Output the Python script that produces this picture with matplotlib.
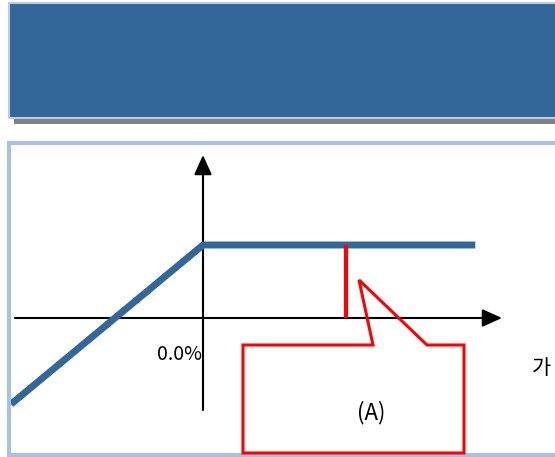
import matplotlib
matplotlib.use("Agg")
import matplotlib.pyplot as plt
from matplotlib.patches import Rectangle, Polygon

plt.rcParams['font.family'] = ['Noto Sans CJK KR', 'DejaVu Sans']

# ---- data (chart units: 1 unit = cap level of payoff line) ----
payoff_x = [-2.63, 0.0, 3.73]
payoff_y = [-1.18, 1.0, 1.0]
marker_x = 1.96          # red vertical marker position
marker_y = [0.0, 1.0]
origin_label = "0.0%"
callout_label = "(A)"
right_label = "가"

W, H = 555, 457
OX, OY, S = 203, 318, 73   # origin pixel position and pixel per unit

def u(px):
    return (px - OX) / S

def v(py):
    return (OY - py) / S

fig = plt.figure(figsize=(W / 100, H / 100), dpi=100)

# decoration axes in pixel coordinates
deco = fig.add_axes([0, 0, 1, 1])
deco.set_xlim(0, W)
deco.set_ylim(H, 0)
deco.axis('off')

# banner shadow
deco.add_patch(Rectangle((14, 118), W, 6, facecolor='#808080', edgecolor='none', zorder=1))
# banner
deco.add_patch(Rectangle((9, 3.3), W, 115, facecolor='#336799', edgecolor='#B9CDE5',
                         linewidth=1.5, zorder=2))
# chart box
deco.add_patch(Rectangle((9.3, 143), W, 312, facecolor='white', edgecolor='#A9C1E1',
                         linewidth=3, zorder=2))

# chart axes
ax = fig.add_axes([0, 0, 1, 1])
ax.set_xlim(u(0), u(W))
ax.set_ylim(v(H), v(0))
ax.axis('off')
ax.patch.set_alpha(0)

arrow_style = '-|>,head_length=0.4,head_width=0.18'
ax.annotate('', xy=(u(502), 0), xytext=(u(15), 0),
            arrowprops=dict(arrowstyle=arrow_style, lw=1.5, color='black',
                            mutation_scale=30, shrinkA=0, shrinkB=0), zorder=3)
ax.annotate('', xy=(0, v(155)), xytext=(0, v(410)),
            arrowprops=dict(arrowstyle=arrow_style, lw=1.5, color='black',
                            mutation_scale=30, shrinkA=0, shrinkB=0), zorder=3)

line, = ax.plot(payoff_x, payoff_y, color='#336799', lw=5, solid_capstyle='butt',
                solid_joinstyle='miter', zorder=4)
line.set_clip_path(Rectangle((11, 145), W, 308, transform=deco.transData))

ax.plot([marker_x, marker_x], marker_y, color='#FF0000', lw=3, solid_capstyle='butt', zorder=5)

ax.text(u(179), v(355), origin_label, fontsize=14, ha='center', va='center', zorder=6)

# callout shape (pixel coordinates)
callout = [(243, 345), (373, 345), (359, 280), (427, 345), (464, 345),
           (464, 453), (243, 453)]
callout_patch = Polygon(callout, closed=True, facecolor='none', edgecolor='#FF0000',
                        linewidth=2.2, zorder=6, joinstyle='miter',
                        transform=deco.transData)
ax.add_patch(callout_patch)
ax.text(u(371), v(413), callout_label, fontsize=16, ha='center', va='center', zorder=7)

ax.text(u(532), v(368), right_label, fontsize=15, ha='left', va='center', zorder=7)

fig.savefig('out.png', dpi=100)
